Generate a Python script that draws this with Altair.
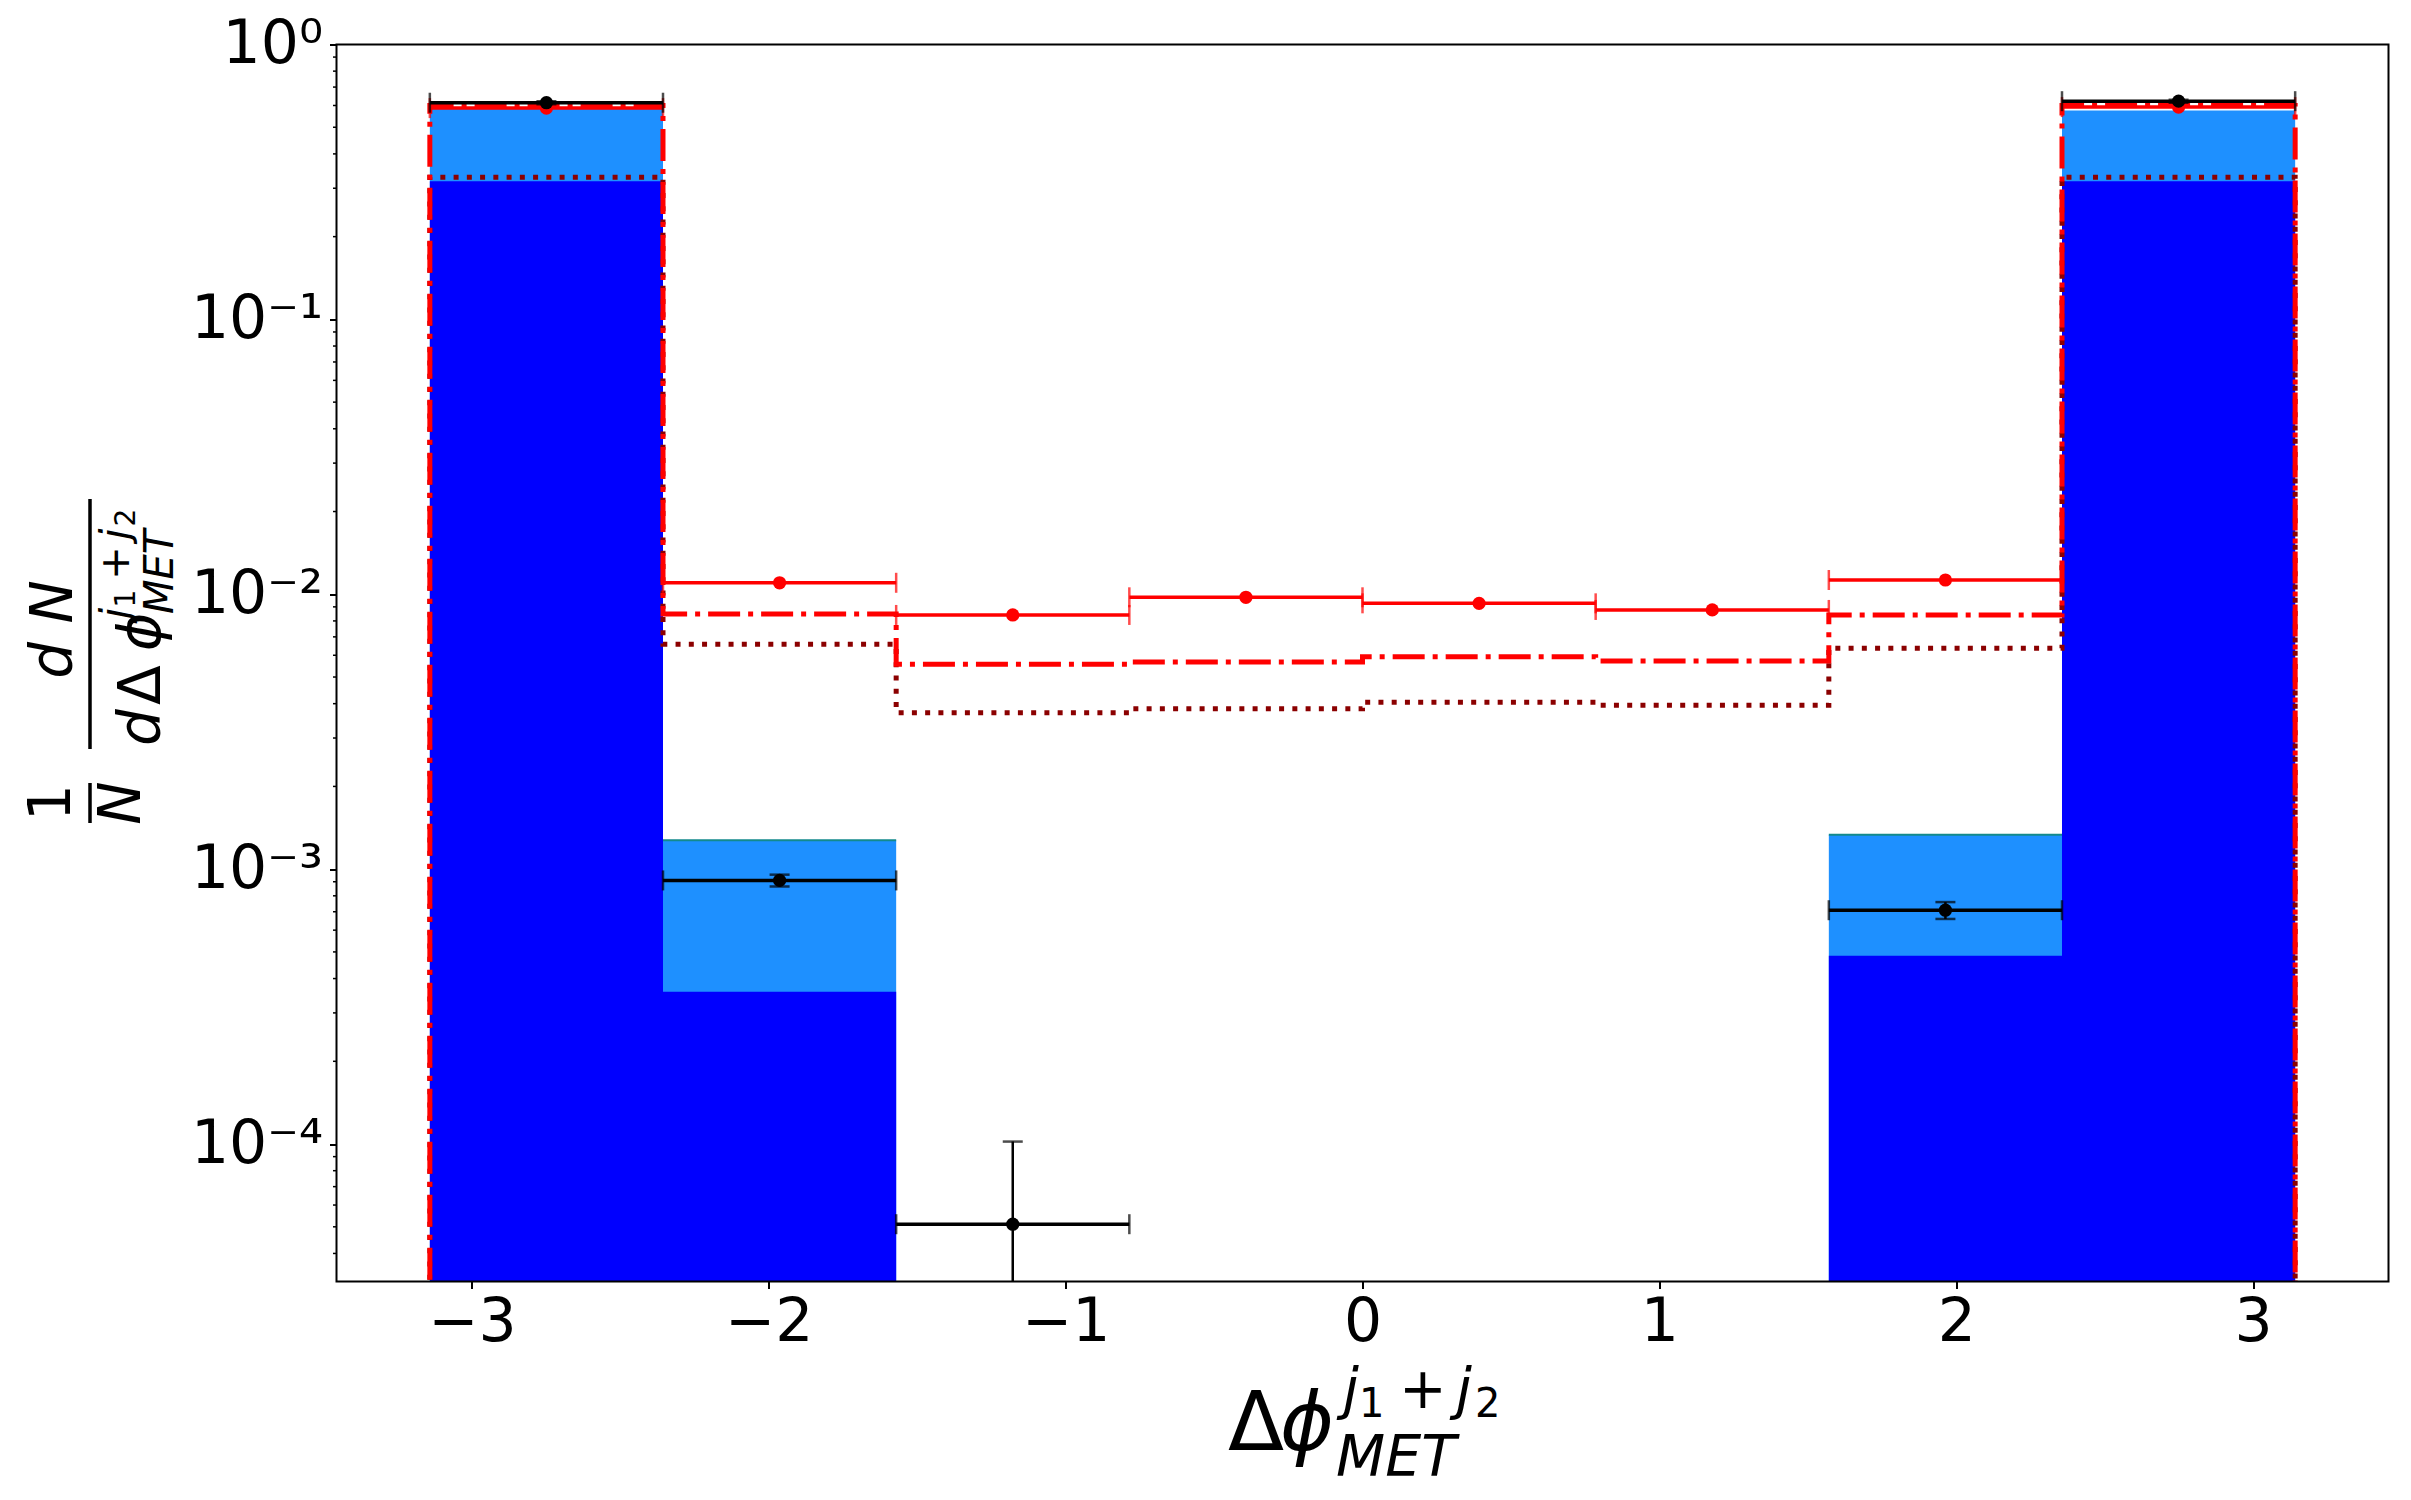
import altair as alt
import pandas as pd

# ---------------- data ----------------
edges = [-3.1416, -2.3562, -1.5708, -0.7854, 0.0, 0.7854, 1.5708, 2.3562, 3.1416]
blue_vals = [0.318, 3.58e-4, 0, 0, 0, 0, 4.84e-4, 0.318]          # lower stacked fill
total_vals = [0.585, 1.275e-3, 0, 0, 0, 0, 1.334e-3, 0.575]       # dodgerblue (stack top)
red_pts = [0.587, 0.01101, 0.00841, 0.00975, 0.00927, 0.00877, 0.01127, 0.592]
dashdot_vals = [0.600, 0.00848, 0.00557, 0.00567, 0.00592, 0.00572, 0.00840, 0.600]
dotted_vals = [0.329, 0.00658, 0.00371, 0.00383, 0.00405, 0.00395, 0.00636, 0.329]
data_vals = [0.614, 9.1e-4, 5.11e-5, 0, 0, 0, 7.09e-4, 0.622]
data_errs = [0.008, 4.5e-5, 5.1e-5, 0, 0, 0, 5.0e-5, 0.008]

x_ticks = [-3, -2, -1, 0, 1, 2, 3]
y_ticks = [1e-4, 1e-3, 1e-2, 1e-1, 1.0]
y_minor = [k * 10.0 ** d for d in range(-5, 0) for k in range(2, 10) if 10 ** -4.5 <= k * 10.0 ** d <= 1]

X_DOMAIN = [-3.456, 3.456]
Y_DOMAIN = [10 ** -4.5, 1.0]
FLOOR = 1e-7
W, H = 2052, 1237
FONT = "DejaVu Sans"

lo = edges[:-1]
hi = edges[1:]
mid = [(a + b) / 2 for a, b in zip(lo, hi)]

xs = alt.Scale(domain=X_DOMAIN, nice=False, zero=False)
ys = alt.Scale(type="log", domain=Y_DOMAIN, nice=False)

label_expr = (
    "'10' + (round(log(datum.value)/LN10) == 0 ? '⁰' : "
    "round(log(datum.value)/LN10) == -1 ? '⁻¹' : "
    "round(log(datum.value)/LN10) == -2 ? '⁻²' : "
    "round(log(datum.value)/LN10) == -3 ? '⁻³' : '⁻⁴')"
)

xaxis = alt.Axis(values=x_ticks, title=None, grid=False, domain=False, tickSize=7, tickWidth=2,
                 tickColor="black", labelFontSize=60, labelFont=FONT, labelColor="black",
                 labelPadding=5, labelFlush=False, labelOverlap=False, format="d")
yaxis = alt.Axis(values=y_ticks, title=None, grid=False, domain=False, tickSize=7, tickWidth=2,
                 tickColor="black", labelFontSize=60, labelFont=FONT, labelColor="black",
                 labelPadding=7, labelOverlap=False, labelExpr=label_expr)


def X(f):
    return alt.X(f, type="quantitative", scale=xs, axis=xaxis)


def Y(f):
    return alt.Y(f, type="quantitative", scale=ys, axis=yaxis)


bins = pd.DataFrame({"lo": lo, "hi": hi, "mid": mid, "blue": blue_vals, "total": total_vals,
                     "red": red_pts, "data": data_vals, "err": data_errs, "floor": FLOOR})
filled = bins[bins["total"] > 0]
data_b = bins[bins["data"] > 0].copy()
data_b["dlo"] = data_b["data"] - data_b["err"]
data_b["dhi"] = data_b["data"] + data_b["err"]


def steps(vals):
    xs_, ys_ = [edges[0]], [FLOOR]
    for i, v in enumerate(vals):
        xs_ += [edges[i], edges[i + 1]]
        ys_ += [v, v]
    xs_.append(edges[-1])
    ys_.append(FLOOR)
    return pd.DataFrame({"x": xs_, "y": ys_, "i": range(len(xs_))})


def caps(df, col):
    return pd.DataFrame({"x": list(df["lo"]) + list(df["hi"]), "y": list(df[col]) * 2})


layers = []

# stacked filled histograms
layers.append(alt.Chart(filled).mark_rect(color="#1E90FF", clip=True).encode(
    x=X("lo"), x2="hi", y=Y("total"), y2="floor"))
layers.append(alt.Chart(filled).mark_rect(color="#0000FF", clip=True).encode(
    x=X("lo"), x2="hi", y=Y("blue"), y2="floor"))
layers.append(alt.Chart(filled[filled["total"] < 0.1]).mark_rule(color="#138a8c", strokeWidth=2).encode(
    x=X("lo"), x2="hi", y=Y("total")))

# minor y ticks
layers.append(alt.Chart(pd.DataFrame({"m": y_minor})).mark_rule(color="black", strokeWidth=1.5).encode(
    y=Y("m"), x=alt.value(0), x2=alt.value(-3.5)))

# step lines
layers.append(alt.Chart(steps(dotted_vals)).mark_line(color="#8B0000", strokeWidth=5,
                                                      strokeDash=[5, 8.25], clip=True).encode(
    x=X("x"), y=Y("y"), order="i:Q"))
layers.append(alt.Chart(steps(dashdot_vals)).mark_line(color="#FF0000", strokeWidth=5,
                                                       strokeDash=[32, 8, 5, 8], clip=True).encode(
    x=X("x"), y=Y("y"), order="i:Q"))

# red error bars
layers.append(alt.Chart(bins).mark_rule(color="#FF0000", strokeWidth=3.5).encode(
    x=X("lo"), x2="hi", y=Y("red")))
layers.append(alt.Chart(caps(bins, "red")).mark_tick(color="#FF0000", orient="vertical",
                                                     size=20, thickness=2.5).encode(
    x=X("x"), y=Y("y")))
layers.append(alt.Chart(bins).mark_circle(color="#FF0000", opacity=1, size=175).encode(
    x=X("mid"), y=Y("red")))

# black data error bars
layers.append(alt.Chart(data_b).mark_rule(color="black", strokeWidth=3.5).encode(
    x=X("lo"), x2="hi", y=Y("data")))
layers.append(alt.Chart(caps(data_b, "data")).mark_tick(color="black", orient="vertical",
                                                        size=20, thickness=2.5).encode(
    x=X("x"), y=Y("y")))
layers.append(alt.Chart(data_b).mark_rule(color="black", strokeWidth=2.5, clip=True).encode(
    x=X("mid"), y=Y("dlo"), y2="dhi"))
errcaps = pd.DataFrame({"x": list(data_b["mid"]) * 2, "y": list(data_b["dlo"]) + list(data_b["dhi"])})
layers.append(alt.Chart(errcaps).mark_tick(color="black", orient="horizontal", size=20,
                                           thickness=2.5, clip=True).encode(
    x=X("x"), y=Y("y")))
layers.append(alt.Chart(data_b).mark_circle(color="black", opacity=1, size=175).encode(
    x=X("mid"), y=Y("data")))

# frame (spines) on top
one = pd.DataFrame({"a": [0]})
layers.append(alt.Chart(one).mark_rect(fill=None, stroke="black", strokeWidth=2).encode(
    x=alt.value(0), x2=alt.value(W), y=alt.value(0), y2=alt.value(H)))

# ---------------- axis titles composed from text pieces ----------------
# (text, x, y, fontSize, fontStyle, align, angle)
title_pieces = [
    # x title: Δϕ^{j1+j2}_{MET}
    ("Δ", 891.5, 1405.5, 82, "normal", "left", 0),
    ("ϕ", 943.5, 1405.5, 82, "italic", "left", 0),
    ("j", 1006.5, 1363.5, 57, "italic", "left", 0),
    ("1", 1022.5, 1372.5, 40, "normal", "left", 0),
    ("+", 1062.5, 1363.5, 57, "normal", "left", 0),
    ("j", 1119.5, 1363.5, 57, "italic", "left", 0),
    ("2", 1138.5, 1372.5, 40, "normal", "left", 0),
    ("MET", 999.5, 1431.5, 57, "italic", "left", 0),
    # y title: (1/N) dN / dΔϕ^{j1+j2}_{MET}
    ("d N", -264.5, 585, 58, "italic", "center", 270),
    ("d", -176.5, 701.5, 58, "italic", "left", 270),
    ("Δ", -176.5, 660.5, 58, "normal", "left", 270),
    ("ϕ", -176.5, 606.5, 58, "italic", "left", 270),
    ("j", -207.5, 574.5, 40, "italic", "left", 270),
    ("1", -201.2, 563.0, 28, "normal", "left", 270),
    ("+", -207.5, 535.2, 40, "normal", "left", 270),
    ("j", -207.5, 495.2, 40, "italic", "left", 270),
    ("2", -201.2, 481.9, 28, "normal", "left", 270),
    ("MET", -163.5, 569.5, 40, "italic", "left", 270),
    ("1", -266.5, 758, 58, "normal", "center", 270),
    ("N", -196.5, 758.5, 58, "italic", "center", 270),
]
for txt, px, py, fs, style, align, ang in title_pieces:
    layers.append(alt.Chart(one).mark_text(text=txt, font=FONT, fontSize=fs, fontStyle=style,
                                           align=align, baseline="alphabetic", angle=ang,
                                           color="black").encode(x=alt.value(px), y=alt.value(py)))

# fraction bars of the y title
for y0, y1 in [(454.5, 704.5), (738.5, 778.5)]:
    layers.append(alt.Chart(one).mark_rule(color="black", strokeWidth=3.5).encode(
        x=alt.value(-246.5), y=alt.value(y0), y2=alt.value(y1)))

chart = alt.layer(*layers).properties(
    width=W, height=H,
    autosize=alt.AutoSizeParams(type="none"),
    padding={"left": 328.5, "top": 36.5, "right": 10, "bottom": 210},
).configure_view(stroke=None)

chart.save("out.html", embed_options={"renderer": "svg", "actions": False})
